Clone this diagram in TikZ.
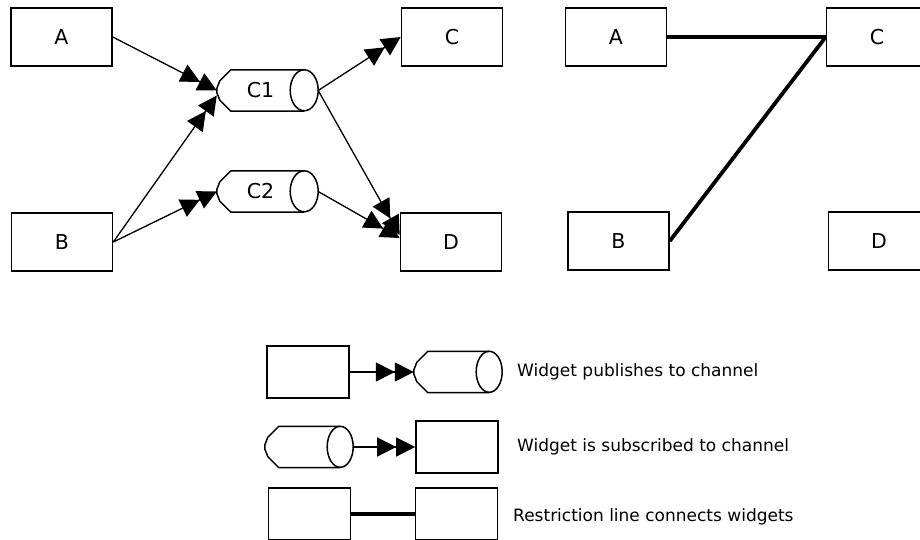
\documentclass[tikz,border=0pt]{standalone}
\usepackage{fontspec}
\setmainfont{DejaVu Sans}
\usetikzlibrary{arrows.meta}
\newcommand\chanshape[2]{%
  \draw[outline] (#1.north east) -- ([xshift=14pt]#1.north west)
    -- ([xshift=3pt,yshift=-11pt]#1.north west) -- ([yshift=2pt]#1.west)
    -- ([yshift=-2pt]#1.west) -- ([xshift=3pt,yshift=11pt]#1.south west)
    -- ([xshift=14pt]#1.south west) -- (#1.south east);
  \draw[outline] (#1.north east) arc[start angle=90, end angle=-270, x radius=#2, y radius=20.5pt];
}
\begin{document}
\begin{tikzpicture}[x=1pt,y=-1pt,
  outline/.style={line width=1.5pt},
  box/.style={draw, line width=1.6pt, minimum width=101pt, minimum height=58pt, inner sep=0pt, font=\fontsize{20.5}{24}\selectfont},
  lbox/.style={draw, line width=1.6pt, minimum width=82pt, minimum height=52pt, inner sep=0pt},
  chan/.style={minimum width=#1, minimum height=41pt, inner sep=0pt, font=\fontsize{20.5}{24}\selectfont},
  pub/.style={line width=1.3pt, -{Triangle[length=19pt,width=19pt,sep=0pt]Triangle[length=19pt,width=19pt]}},
  restr/.style={line width=3.8pt},
  legtext/.style={anchor=west, inner sep=0pt, font=\fontsize{17}{20}\selectfont}
]
\clip (0,0) rectangle (920,540);
\fill[white] (0,0) rectangle (920,540);

% left diagram
\node[box] (A) at (61.5,37) {A};
\node[box] (B) at (62,242) {B};
\node[box] (C) at (452,37) {C};
\node[box] (D) at (451,242) {D};
\node[chan=87pt] (C1) at (260.5,90.5) {C1};
\node[chan=87pt] (C2) at (260.5,191.5) {C2};
\chanshape{C1}{14pt}
\chanshape{C2}{14pt}
\draw[pub] (A.east) -- (C1.west);
\draw[pub] (B.east) -- ([yshift=-5pt]C1.west);
\draw[pub] (B.east) -- (C2.west);
\draw[pub] ([xshift=14pt]C1.east) -- (C.west);
\draw[pub] ([xshift=14pt]C1.east) -- ([yshift=7pt]D.west);
\draw[pub] ([xshift=14pt]C2.east) -- ([yshift=4pt]D.west);

% right diagram
\node[box] (RA) at (616,37) {A};
\node[box] (RB) at (618.5,241) {B};
\node[box] (RC) at (877,37) {C};
\node[box] (RD) at (879,241) {D};
\draw[restr] (RA.east) -- (RC.west);
\draw[restr] (RB.east) -- (RC.west);

% legend
\node[lbox] (L1w) at (308,372) {};
\node[chan=75pt] (L1c) at (451.5,372) {};
\chanshape{L1c}{13pt}
\draw[pub] (L1w.east) -- (L1c.west);
\node[legtext] (T1) at (517,372) {Widget publishes to channel};

\node[chan=75pt] (L2c) at (302.5,447) {};
\chanshape{L2c}{13pt}
\node[lbox] (L2w) at (457,447) {};
\draw[pub] ([xshift=13pt]L2c.east) -- (L2w.west);
\node[legtext] (T2) at (517,447) {Widget is subscribed to channel};

\node[lbox] (L3a) at (309.5,514) {};
\node[lbox] (L3b) at (456.5,514) {};
\draw[restr] (L3a.east) -- (L3b.west);
\node[legtext] (T3) at (513,517) {Restriction line connects widgets};
\end{tikzpicture}
\end{document}
